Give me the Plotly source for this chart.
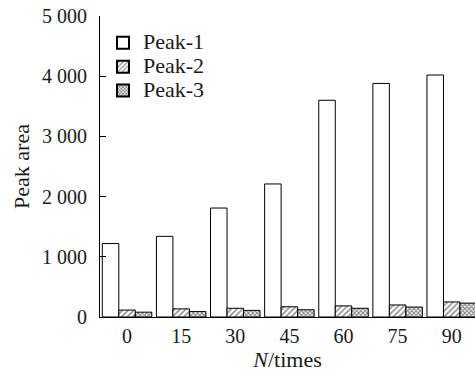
import plotly.graph_objects as go

# Peak areas measured after N repeated injections
n_times = ["0", "15", "30", "45", "60", "75", "90"]
peak1 = [1220, 1340, 1810, 2210, 3600, 3880, 4020]
peak2 = [115, 135, 145, 170, 185, 200, 250]
peak3 = [80, 90, 110, 120, 145, 165, 230]
series_names = ["Peak-1", "Peak-2", "Peak-3"]

y_ticks = [0, 1000, 2000, 3000, 4000, 5000]
y_ticktext = ["0", "1 000", "2 000", "3 000", "4 000", "5 000"]

FONT = "Liberation Serif, Times New Roman, serif"
xpos = list(range(len(n_times)))


def legend_label(text):
    # larger glyphs than the compact legend row spacing would give
    return f'<span style="font-size:22px">{text}</span>'


fig = go.Figure()
fig.add_trace(go.Bar(
    x=xpos, y=peak1, name=legend_label(series_names[0]),
    marker=dict(color="white", line=dict(color="black", width=1)),
))
fig.add_trace(go.Bar(
    x=xpos, y=peak2, name=legend_label(series_names[1]),
    marker=dict(color="white", line=dict(color="black", width=1),
                pattern=dict(shape="/", size=4, solidity=0.4,
                             fgcolor="#222222", bgcolor="white")),
))
fig.add_trace(go.Bar(
    x=xpos, y=peak3, name=legend_label(series_names[2]),
    marker=dict(color="white", line=dict(color="black", width=1),
                pattern=dict(shape="x", size=3, solidity=0.6,
                             fgcolor="#111111", bgcolor="white")),
))

fig.update_layout(
    width=475, height=375,
    margin=dict(l=100, r=0, t=16, b=58),
    paper_bgcolor="white", plot_bgcolor="white",
    barmode="group", bargap=0.085, bargroupgap=0,
    font=dict(family=FONT, size=20, color="#1a1a1a"),
    showlegend=True,
    legend=dict(x=0.008, y=0.967, xanchor="left", yanchor="top",
                bgcolor="rgba(0,0,0,0)", font=dict(size=16),
                itemsizing="constant", tracegroupgap=0),
    xaxis=dict(
        range=[-0.5, 6.43], tickvals=xpos, ticktext=n_times,
        showline=True, linecolor="black", linewidth=1,
        ticks="", showgrid=False, zeroline=False,
        ticklabelstandoff=1,
        tickfont=dict(size=20),
        title=dict(text="<i>N</i>/times", standoff=2,
                   font=dict(size=22)),
    ),
    yaxis=dict(
        range=[0, 5000], tickvals=y_ticks, ticktext=y_ticktext,
        showline=True, linecolor="black", linewidth=1,
        ticks="inside", ticklen=6, tickcolor="black",
        showgrid=False, zeroline=False,
        ticklabelstandoff=8,
        tickfont=dict(size=20),
        title=dict(text="Peak area", standoff=6, font=dict(size=22)),
    ),
)

fig.write_html("out.html")
